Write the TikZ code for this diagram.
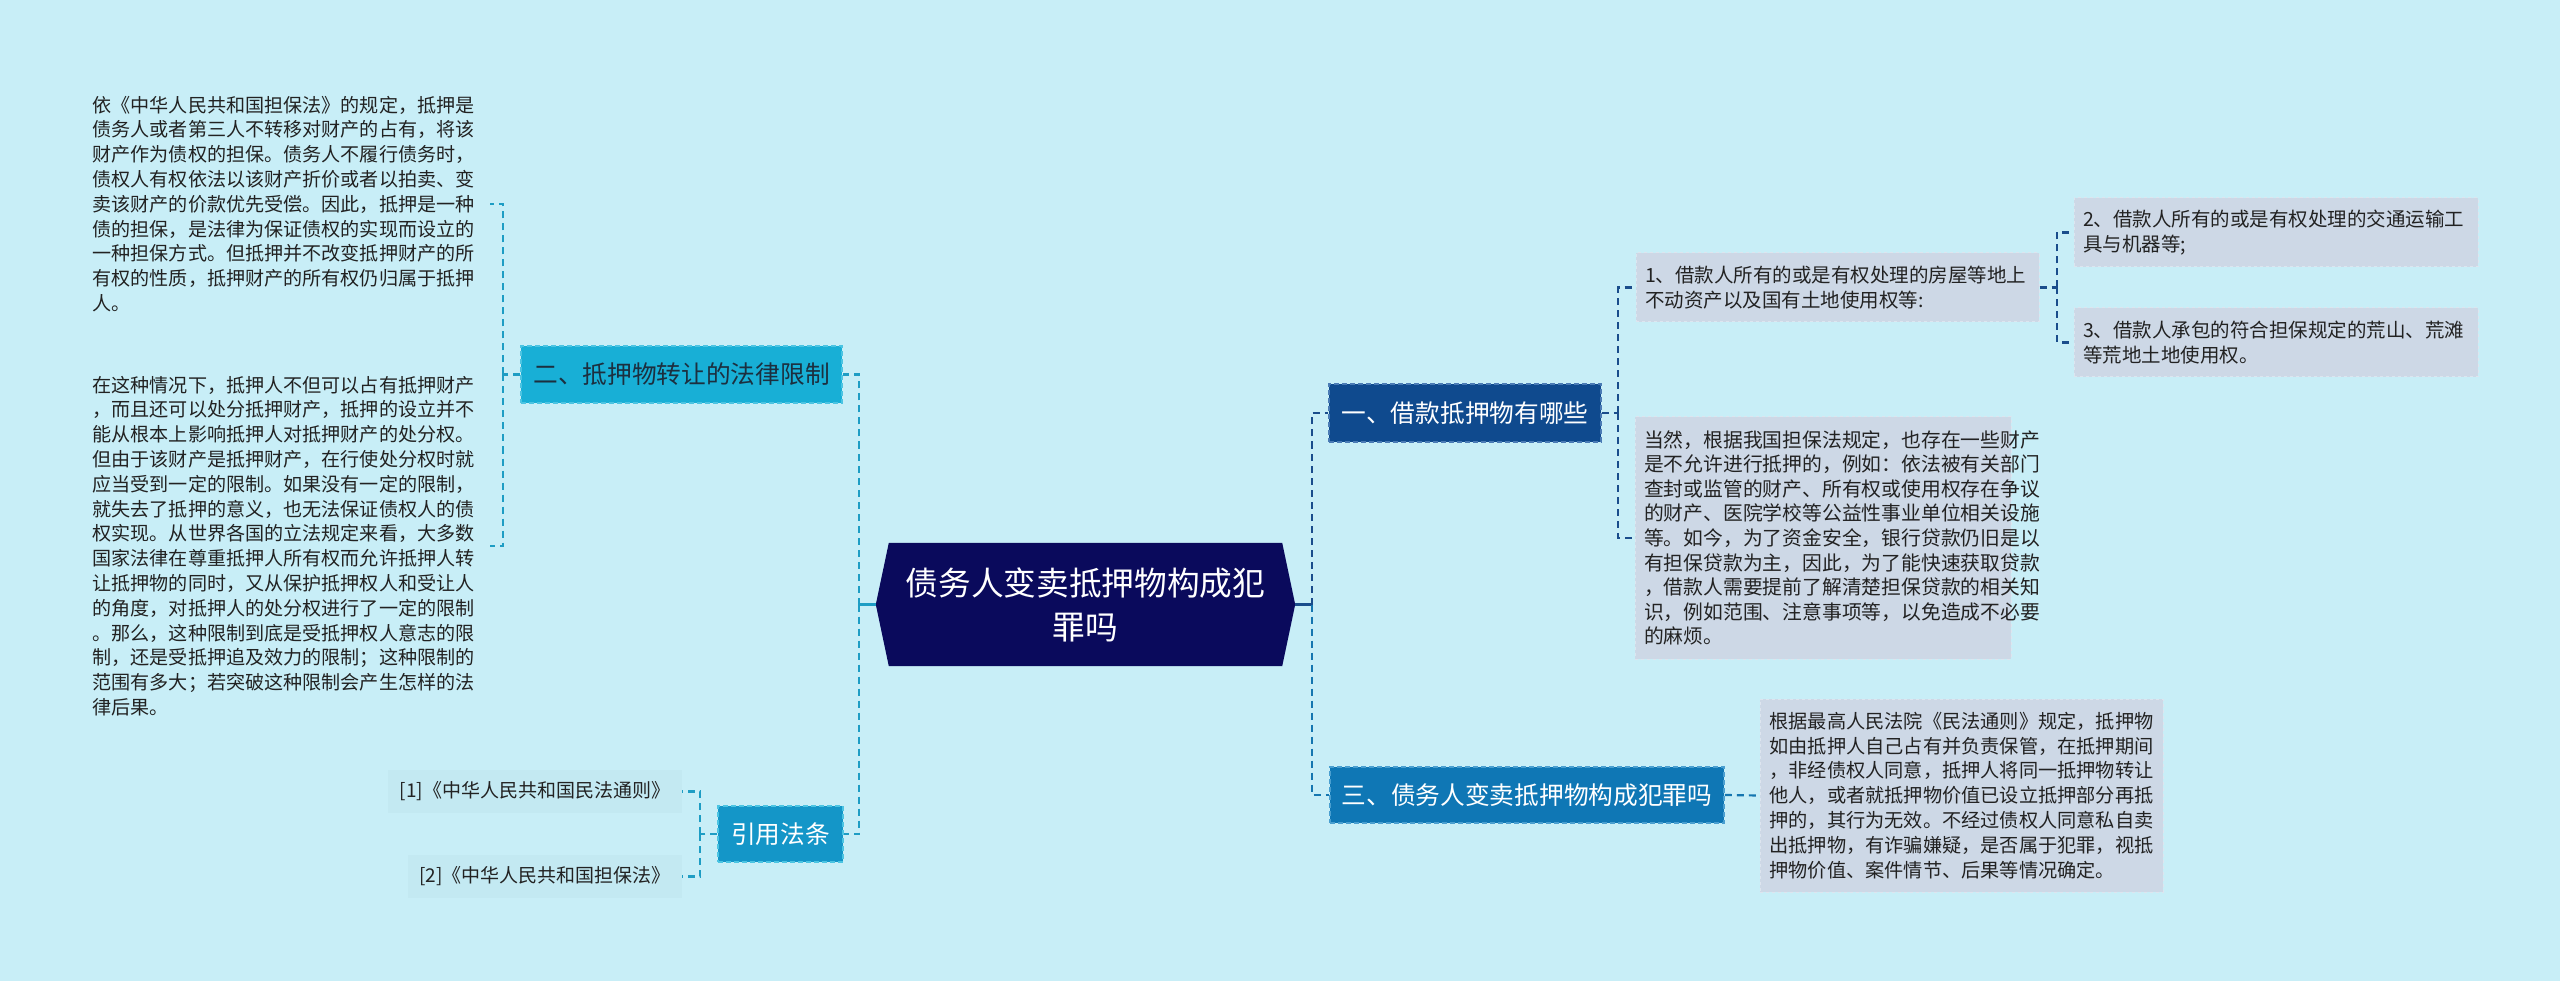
\documentclass[tikz,border=0pt]{standalone}
\usepackage{fontspec}
\setmainfont{Noto Sans CJK SC}
\usetikzlibrary{calc}
\definecolor{bgc}{HTML}{C8EEF7}
\definecolor{navy}{HTML}{0A0A5C}
\definecolor{bonef}{HTML}{0F4A8E}
\definecolor{boned}{HTML}{4A7BB5}
\definecolor{btwof}{HTML}{18AFD6}
\definecolor{btwod}{HTML}{4CC4E2}
\definecolor{bthrf}{HTML}{0F77B5}
\definecolor{bthrd}{HTML}{4A9FD0}
\definecolor{bfouf}{HTML}{1496C8}
\definecolor{leaff}{HTML}{CDD8E6}
\definecolor{leafd}{HTML}{DDE5EF}
\definecolor{plainf}{HTML}{C3E9F2}
\definecolor{txt}{HTML}{222222}
\definecolor{lineL}{HTML}{1E9DC4}
\definecolor{lineR}{HTML}{1A4D8C}
\definecolor{lineB}{HTML}{1576B0}
\tikzset{
  branchbox/.style={rectangle, inner sep=0pt, dashed, line width=1.5pt, dash pattern=on 5pt off 3pt,
    font=\fontsize{24.7}{30}\selectfont},
  leafbox/.style={rectangle, inner sep=0pt, fill=leaff, draw=leafd, dashed, line width=1pt,
    text=txt, align=left, font=\fontsize{19.5}{24.8}\selectfont},
  plainbox/.style={rectangle, inner sep=0pt, text=txt, align=left,
    font=\fontsize{19.1}{24.8}\selectfont},
  refbox/.style={rectangle, inner sep=0pt, fill=plainf, text=txt, font=\fontsize{19}{24}\selectfont},
  conn/.style={dashed, line width=2.2pt, dash pattern=on 7pt off 5pt},
  solidconn/.style={line width=2.5pt}
}
\begin{document}
\begin{tikzpicture}[x=1pt,y=-1pt]
\fill[bgc] (0,0) rectangle (2560,981);
\useasboundingbox (0,0) rectangle (2560,981);

% central
\node[rectangle, minimum width=419pt, minimum height=123pt, inner sep=0pt] (c) at (1085.5,604.5) {};
\fill[navy] (c.west) -- ($(c.north west)+(13,0)$) -- ($(c.north east)+(-13,0)$) -- (c.east)
  -- ($(c.south east)+(-13,0)$) -- ($(c.south west)+(13,0)$) -- cycle;
\node[align=center, text=white, font=\fontsize{32.7}{44}\selectfont] (ct) at (c.center) {债务人变卖抵押物构成犯\\罪吗};

% branches
\node[branchbox, fill=bonef, draw=boned, text=white, minimum width=272pt, minimum height=58pt] (b1) at (1465,413) {一、借款抵押物有哪些};
\node[branchbox, fill=bthrf, draw=bthrd, text=white, minimum width=394pt, minimum height=56pt] (b3) at (1527,795) {三、债务人变卖抵押物构成犯罪吗};
\node[branchbox, fill=btwof, draw=btwod, text={rgb,255:red,28;green,47;blue,63}, minimum width=321pt, minimum height=57pt] (b2) at (681.5,374.5) {二、抵押物转让的法律限制};
\node[branchbox, fill=bfouf, draw=btwod, text=white, minimum width=125pt, minimum height=56pt] (b4) at (780.5,834) {引用法条};

% right leaves
\node[leafbox, minimum width=403pt, minimum height=69pt, text width=385pt] (k1) at (1837.5,287.5) {1、借款人所有的或是有权处理的房屋等地上\\不动资产以及国有土地使用权等:};
\node[leafbox, minimum width=404pt, minimum height=69pt, text width=386pt] (k2) at (2276,232.5) {2、借款人所有的或是有权处理的交通运输工\\具与机器等;};
\node[leafbox, minimum width=404pt, minimum height=69pt, text width=386pt] (k3) at (2276,342.5) {3、借款人承包的符合担保规定的荒山、荒滩\\等荒地土地使用权。};
\node[leafbox, minimum width=376pt, minimum height=242pt, text width=358pt, font=\fontsize{19.8}{24.6}\selectfont] (k4) at (1823,538) {当然，根据我国担保法规定，也存在一些财产\\是不允许进行抵押的，例如：依法被有关部门\\查封或监管的财产、所有权或使用权存在争议\\的财产、医院学校等公益性事业单位相关设施\\等。如今，为了资金安全，银行贷款仍旧是以\\有担保贷款为主，因此，为了能快速获取贷款\\，借款人需要提前了解清楚担保贷款的相关知\\识，例如范围、注意事项等，以免造成不必要\\的麻烦。};
\node[leafbox, minimum width=403pt, minimum height=193pt, text width=384pt, font=\fontsize{19.2}{24.8}\selectfont] (k5) at (1961.5,795.5) {根据最高人民法院《民法通则》规定，抵押物\\如由抵押人自己占有并负责保管，在抵押期间\\，非经债权人同意，抵押人将同一抵押物转让\\他人，或者就抵押物价值已设立抵押部分再抵\\押的，其行为无效。不经过债权人同意私自卖\\出抵押物，有诈骗嫌疑，是否属于犯罪，视抵\\押物价值、案件情节、后果等情况确定。};

% left texts
\node[plainbox, minimum width=407pt, minimum height=238pt, text width=388pt] (t1) at (286.5,204) {依《中华人民共和国担保法》的规定，抵押是\\债务人或者第三人不转移对财产的占有，将该\\财产作为债权的担保。债务人不履行债务时，\\债权人有权依法以该财产折价或者以拍卖、变\\卖该财产的价款优先受偿。因此，抵押是一种\\债的担保，是法律为保证债权的实现而设立的\\一种担保方式。但抵押并不改变抵押财产的所\\有权的性质，抵押财产的所有权仍归属于抵押\\人。};
\node[plainbox, minimum width=407pt, minimum height=363pt, text width=388pt] (t2) at (286.5,546) {在这种情况下，抵押人不但可以占有抵押财产\\，而且还可以处分抵押财产，抵押的设立并不\\能从根本上影响抵押人对抵押财产的处分权。\\但由于该财产是抵押财产，在行使处分权时就\\应当受到一定的限制。如果没有一定的限制，\\就失去了抵押的意义，也无法保证债权人的债\\权实现。从世界各国的立法规定来看，大多数\\国家法律在尊重抵押人所有权而允许抵押人转\\让抵押物的同时，又从保护抵押权人和受让人\\的角度，对抵押人的处分权进行了一定的限制\\。那么，这种限制到底是受抵押权人意志的限\\制，还是受抵押追及效力的限制；这种限制的\\范围有多大；若突破这种限制会产生怎样的法\\律后果。};

% refs
\node[refbox, minimum width=294pt, minimum height=43pt] (r1) at (535,791.5) {[1]《中华人民共和国民法通则》};
\node[refbox, minimum width=274pt, minimum height=43pt] (r2) at (545,876.5) {[2]《中华人民共和国担保法》};

% junctions
\coordinate (jR) at (1312,604.5);
\coordinate (j1) at (1618,413);
\coordinate (j2) at (2057,287.5);
\coordinate (jL) at (859,604.5);
\coordinate (jB) at (503,374.5);
\coordinate (jC) at (700,834);

% right connectors
\draw[solidconn, lineR] (c.east) -- (jR);
\draw[conn, lineR] (jR) |- (b1.west);
\draw[conn, lineB] (jR) |- (b3.west);
\draw[conn, lineR] (b1.east) -- (j1);
\draw[conn, lineR] (j1) |- (k1.west);
\draw[conn, lineR] (j1) |- (k4.west);
\draw[conn, lineR] (k1.east) -- (j2);
\draw[conn, lineR] (j2) |- (k2.west);
\draw[conn, lineR] (j2) |- (k3.west);
\draw[conn, lineB] (b3.east) -- (k5.west);

% left connectors
\draw[solidconn, lineL] (c.west) -- (jL);
\draw[conn, lineL] (jL) |- (b2.east);
\draw[conn, lineL] (jL) |- (b4.east);
\draw[conn, lineL] (b2.west) -- (jB);
\draw[conn, lineL] (jB) |- (t1.east);
\draw[conn, lineL] (jB) |- (t2.east);
\draw[conn, lineL] (b4.west) -- (jC);
\draw[conn, lineL] (jC) |- (r1.east);
\draw[conn, lineL] (jC) |- (r2.east);
\end{tikzpicture}
\end{document}
